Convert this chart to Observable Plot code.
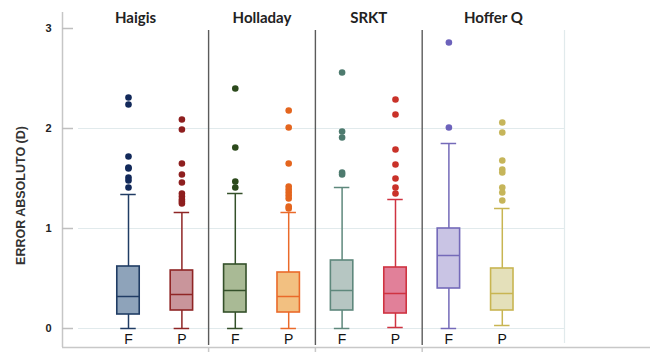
<!DOCTYPE html>
<html>
<head>
<meta charset="utf-8">
<script src="https://cdn.jsdelivr.net/npm/d3@7"></script>
<script src="https://cdn.jsdelivr.net/npm/@observablehq/plot@0.6"></script>
<style>
  body { margin: 0; background: #fff; }
  #chart svg { display: block; }
</style>
</head>
<body>
<div id="chart"></div>
<script>
// Absolute refraction error by formula (Haigis, Holladay, SRKT, Hoffer Q), F vs P
const formulas = ["Haigis", "Holladay", "SRKT", "Hoffer Q"];
const methods = ["F", "P"];

// Box summaries, in order Haigis F, Haigis P, Holladay F, Holladay P, SRKT F, SRKT P, Hoffer Q F, Hoffer Q P
const lowWhisker  = [0.00, 0.00, 0.00, 0.00, 0.00, 0.01, 0.00, 0.03];
const lowerQuart  = [0.14, 0.18, 0.16, 0.16, 0.18, 0.15, 0.40, 0.18];
const medians     = [0.32, 0.34, 0.38, 0.32, 0.38, 0.35, 0.73, 0.35];
const upperQuart  = [0.62, 0.58, 0.64, 0.56, 0.68, 0.61, 1.00, 0.60];
const highWhisker = [1.34, 1.16, 1.35, 1.16, 1.41, 1.29, 1.85, 1.20];
const outliers = [
  [2.31, 2.24, 1.72, 1.61, 1.60, 1.51, 1.48, 1.41],
  [2.09, 1.99, 1.65, 1.54, 1.46, 1.35, 1.32, 1.29, 1.27, 1.25],
  [2.40, 1.81, 1.47, 1.41],
  [2.18, 2.01, 1.65, 1.42, 1.39, 1.36, 1.33, 1.30, 1.22, 1.20],
  [2.56, 1.97, 1.91, 1.56, 1.54],
  [2.29, 2.14, 1.79, 1.64, 1.50, 1.41, 1.35],
  [2.86, 2.01],
  [2.06, 1.96, 1.68, 1.59, 1.56, 1.41, 1.36, 1.28]
];
const yTicks = [0, 1, 2, 3];
const yGrid = [0, 1, 2];
const yTitle = "ERROR ABSOLUTO (D)";

// Palette per box: outline, fill, outlier dots
const outlineColors = ["#203c64", "#8f2525", "#34502a", "#ea6a2a", "#5e887c", "#cf3341", "#746ab9", "#c8b552"];
const fillColors    = ["#8ea3ba", "#c9959b", "#a9ba95", "#f2c081", "#b6c6c2", "#e18099", "#c9c4e4", "#e4e0ba"];
const dotColors     = ["#12295a", "#8e1f1f", "#2c4a1c", "#e4651e", "#4d7a6e", "#c93229", "#6c62bb", "#c6b55a"];

// Layout
const W = 650, H = 352;
const margin = {top: 12, right: 86, bottom: 5, left: 62};
const plotWidth = W - margin.left - margin.right;
const xExtent = [-1.236, 8.165];   // box index space, with outer padding
const yExtent = [-0.19, 3.16];
const boxHalf = 0.21, capHalf = 0.145;

const boxes = formulas.flatMap((f, g) => methods.map((m, j) => {
  const i = g * methods.length + j;
  return {
    i, formula: f, method: m,
    lo: lowWhisker[i], q1: lowerQuart[i], med: medians[i], q3: upperQuart[i], hi: highWhisker[i],
    stroke: outlineColors[i], fill: fillColors[i], dot: dotColors[i]
  };
}));
const points = boxes.flatMap(b => outliers[b.i].map(v => ({i: b.i, v, dot: b.dot})));
const separators = formulas.slice(1).map((_, g) => (g + 1) * methods.length - 0.5);
const panelEdges = [xExtent[0], ...separators, xExtent[1]];
const titles = formulas.map((f, g) => ({name: f, x: (panelEdges[g] + panelEdges[g + 1]) / 2}));

const chart = Plot.plot({
  width: W,
  height: H,
  marginTop: margin.top,
  marginRight: margin.right,
  marginBottom: margin.bottom,
  marginLeft: margin.left,
  x: {type: "linear", domain: xExtent, axis: null},
  y: {domain: yExtent, axis: null},
  color: {type: "identity"},
  style: {fontFamily: "'Liberation Sans', Arial, sans-serif", background: "#fff"},
  marks: [
    // horizontal grid
    Plot.ruleY(yGrid, {stroke: "#e1eaec", strokeWidth: 1.2, insetLeft: 16}),
    // light right border
    Plot.ruleX([xExtent[1]], {stroke: "#e1eaec", strokeWidth: 1.2, insetTop: 18, insetBottom: 4}),
    // y axis line and inward ticks
    Plot.ruleX([xExtent[0]], {stroke: "#c6c6c6", strokeWidth: 1.5}),
    Plot.ruleY(yTicks, {stroke: "#bfbfbf", strokeWidth: 1.5, insetRight: plotWidth - 11}),
    // baseline running to the right edge
    Plot.ruleY([yExtent[0]], {stroke: "#c8c8c8", strokeWidth: 1.5, insetRight: -margin.right}),
    Plot.axisX({ticks: separators, tickSize: 5, tickFormat: () => "", stroke: "#c8c8c8", strokeWidth: 1.5, label: null}),
    // formula separators
    Plot.ruleX(separators, {stroke: "#5b5b5b", strokeWidth: 1.4, insetTop: 18, insetBottom: 2}),
    // whiskers and caps
    Plot.ruleX(boxes, {x: "i", y1: "lo", y2: "hi", stroke: "stroke", strokeWidth: 1.5}),
    Plot.ruleY(boxes, {y: "lo", x1: d => d.i - capHalf, x2: d => d.i + capHalf, stroke: "stroke", strokeWidth: 1.5}),
    Plot.ruleY(boxes, {y: "hi", x1: d => d.i - capHalf, x2: d => d.i + capHalf, stroke: "stroke", strokeWidth: 1.5}),
    // interquartile boxes and medians
    Plot.rect(boxes, {x1: d => d.i - boxHalf, x2: d => d.i + boxHalf, y1: "q1", y2: "q3", fill: "fill", stroke: "stroke", strokeWidth: 1.6}),
    Plot.ruleY(boxes, {y: "med", x1: d => d.i - boxHalf, x2: d => d.i + boxHalf, stroke: "stroke", strokeWidth: 1.5}),
    // outliers
    Plot.dot(points, {x: "i", y: "v", r: 3.3, fill: "dot", stroke: null}),
    // F / P labels
    Plot.text(boxes, {x: "i", text: "method", frameAnchor: "bottom", lineAnchor: "middle", dy: -8, fontSize: 14, fill: "#111"}),
    // formula titles
    Plot.text(titles, {x: "x", text: "name", frameAnchor: "top", lineAnchor: "middle", dy: 6,
      fontSize: 15, fontWeight: "bold", fontFamily: "Lato, 'Liberation Sans', sans-serif", fill: "#222"}),
    // y tick labels
    Plot.axisY({ticks: yTicks, tickSize: 0, tickPadding: 11, tickFormat: d => String(d), fontSize: 11, fontWeight: "bold", color: "#222", label: null}),
    // y title
    Plot.text([yTitle], {frameAnchor: "left", rotate: -90, textAnchor: "middle", lineAnchor: "middle",
      dx: -42, dy: 15.5, fontSize: 12.5, fontWeight: "bold", fill: "#333"})
  ]
});
document.getElementById("chart").appendChild(chart);
</script>
</body>
</html>
